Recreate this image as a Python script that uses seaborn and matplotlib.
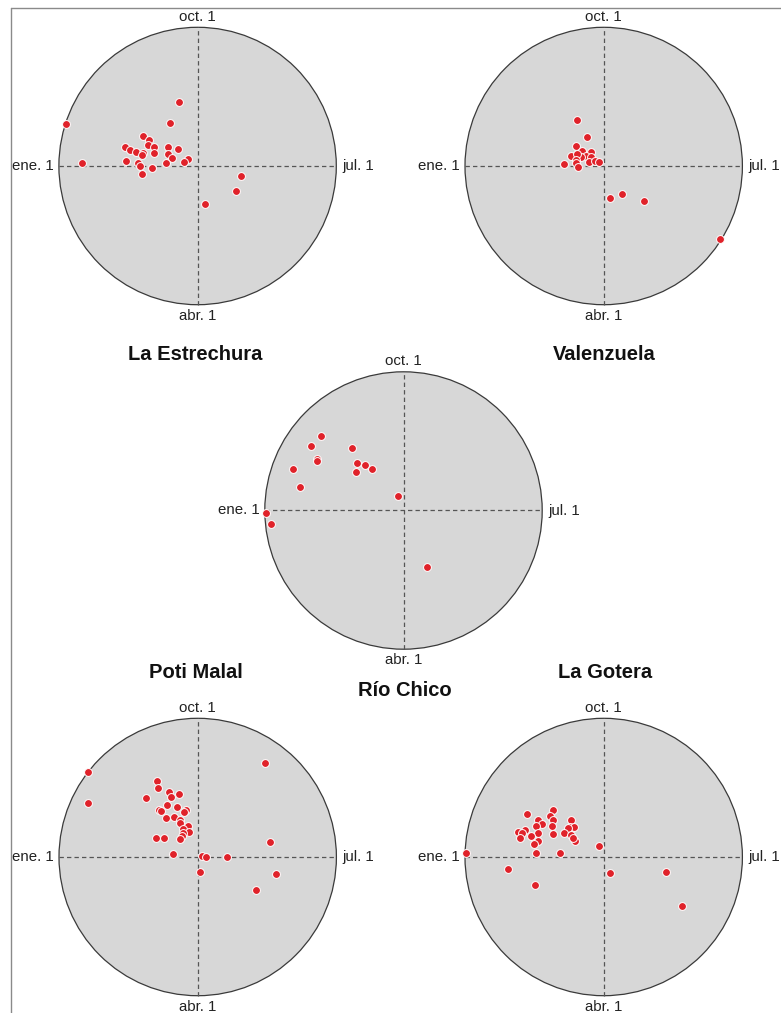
import numpy as np
import pandas as pd
import matplotlib
matplotlib.use("Agg")
import matplotlib.pyplot as plt
from matplotlib.patches import Circle
from matplotlib.lines import Line2D
import seaborn as sns

# ---------------- data (unit-circle coordinates: angle = calendar date, radius = concentration) ----
sites = ["La Estrechura", "Valenzuela", "Río Chico", "Poti Malal", "La Gotera"]
dir_labels = ["oct. 1", "jul. 1", "abr. 1", "ene. 1"]  # top, right, bottom, left

estrechura_x = [-0.132, -0.202, -0.952, -0.397, -0.351, -0.358, -0.313, -0.313, -0.524, -0.486,
                -0.442, -0.397, -0.399, -0.216, -0.144, -0.212, -0.185, -0.072, -0.096, -0.231,
                -0.514, -0.430, -0.418, -0.329, -0.404, -0.832, 0.313, 0.274, 0.053]
estrechura_y = [0.462, 0.310, 0.300, 0.216, 0.190, 0.154, 0.139, 0.096, 0.135, 0.113,
                0.101, 0.096, 0.077, 0.135, 0.125, 0.087, 0.055, 0.050, 0.029, 0.022,
                0.034, 0.022, 0.000, -0.014, -0.060, 0.022, -0.075, -0.183, -0.272]

valenzuela_x = [-0.193, -0.118, -0.200, -0.156, -0.089, -0.238, -0.130, -0.164, -0.094, -0.195,
                -0.202, -0.200, -0.288, -0.108, -0.065, -0.032, -0.185, 0.048, 0.130, 0.288, 0.841]
valenzuela_y = [0.332, 0.207, 0.146, 0.108, 0.103, 0.072, 0.074, 0.063, 0.063, 0.090,
                0.043, 0.019, 0.012, 0.027, 0.036, 0.027, -0.009, -0.229, -0.202, -0.250, -0.524]

riochico_x = [-0.598, -0.665, -0.368, -0.622, -0.625, -0.335, -0.275, -0.224, -0.339, -0.795,
              -0.745, -0.037, -0.992, -0.956, 0.169]
riochico_y = [0.540, 0.465, 0.448, 0.372, 0.360, 0.345, 0.331, 0.302, 0.276, 0.297,
              0.170, 0.106, -0.017, -0.098, -0.408]

potimalal_x = [-0.790, -0.791, -0.293, -0.288, -0.207, -0.137, -0.195, -0.375, -0.219, -0.151,
               -0.082, -0.099, -0.279, -0.264, -0.228, -0.171, -0.127, -0.130, -0.067, -0.103,
               -0.065, -0.108, -0.111, -0.125, -0.303, -0.243, -0.175, 0.034, 0.058, 0.209,
               0.017, 0.483, 0.519, 0.563, 0.418]
potimalal_y = [0.615, 0.392, 0.548, 0.498, 0.471, 0.457, 0.430, 0.423, 0.375, 0.361,
               0.341, 0.327, 0.337, 0.332, 0.279, 0.288, 0.269, 0.243, 0.226, 0.202,
               0.178, 0.173, 0.151, 0.132, 0.135, 0.139, 0.024, 0.007, -0.002, 0.002,
               -0.108, 0.678, 0.106, -0.125, -0.236]

gotera_x = [-0.368, -0.555, -0.385, -0.476, -0.363, -0.236, -0.447, -0.486, -0.373, -0.240,
            -0.212, -0.260, -0.618, -0.565, -0.587, -0.471, -0.524, -0.286, -0.368, -0.236,
            -0.606, -0.474, -0.500, -0.207, -0.221, -0.036, -0.490, -0.313, -0.990, -0.690,
            -0.495, 0.046, 0.452, 0.567]
gotera_y = [0.339, 0.308, 0.298, 0.269, 0.264, 0.267, 0.240, 0.226, 0.226, 0.214,
            0.214, 0.207, 0.183, 0.192, 0.173, 0.175, 0.154, 0.175, 0.163, 0.156,
            0.135, 0.113, 0.091, 0.115, 0.137, 0.077, 0.029, 0.026, 0.026, -0.089,
            -0.200, -0.118, -0.106, -0.353]

site_x = [estrechura_x, valenzuela_x, riochico_x, potimalal_x, gotera_x]
site_y = [estrechura_y, valenzuela_y, riochico_y, potimalal_y, gotera_y]

# ---------------- style ----------------
sns.set_style("white")
plt.rcParams["font.family"] = ["Liberation Sans", "DejaVu Sans"]

W, H = 781, 1013
fig = plt.figure(figsize=(W / 100, H / 100), dpi=100)
fig.patch.set_facecolor("white")

R_PX = 138.7
L = 1.3
centers = [(197.6, 166.0), (603.7, 166.0), (403.5, 510.5), (197.7, 857.0), (603.7, 857.0)]
title_pos = [(195.5, 355.0), (604.5, 355.0), (404.5, 690.0), (195.8, 673.0), (605.0, 673.0)]

POINT = "#e0222a"
DISK = "#d7d7d7"

for i, site in enumerate(sites):
    cx, cy = centers[i]
    half = R_PX * L
    ax = fig.add_axes([(cx - half) / W, (H - cy - half) / H, 2 * half / W, 2 * half / H])
    ax.set_xlim(-L, L)
    ax.set_ylim(-L, L)
    ax.set_aspect("equal")
    ax.axis("off")
    ax.patch.set_visible(False)

    ax.add_patch(Circle((0, 0), 1.0, facecolor=DISK, edgecolor="#3a3a3a", lw=0.9, zorder=1))
    ax.plot([-1, 1], [0, 0], ls=(0, (3.5, 2.5)), color="#555555", lw=0.9, zorder=2)
    ax.plot([0, 0], [-1, 1], ls=(0, (3.5, 2.5)), color="#555555", lw=0.9, zorder=2)

    df = pd.DataFrame({"x": site_x[i], "y": site_y[i]})
    sns.scatterplot(data=df, x="x", y="y", ax=ax, color=POINT, s=32,
                    edgecolor="white", linewidth=0.7, zorder=3, legend=False)
    ax.set_xlabel("")
    ax.set_ylabel("")

    fs = 10.8
    ax.text(0, 1.075, dir_labels[0], ha="center", va="center", fontsize=fs, color="#222222")
    ax.text(1.045, 0, dir_labels[1], ha="left", va="center", fontsize=fs, color="#222222")
    ax.text(0, -1.078, dir_labels[2], ha="center", va="center", fontsize=fs, color="#222222")
    ax.text(-1.04, 0, dir_labels[3], ha="right", va="center", fontsize=fs, color="#222222")

    tx, ty = title_pos[i]
    fig.text(tx / W, 1 - ty / H, site, ha="center", va="center", fontsize=14.5,
             fontweight="bold", color="#111111")

# thin frame lines (top and left)
fig.add_artist(Line2D([10.5 / W, 10.5 / W], [0, 1 - 8 / H], color="#8a8a8a", lw=1.0))
fig.add_artist(Line2D([10.5 / W, 1], [1 - 8 / H, 1 - 8 / H], color="#8a8a8a", lw=1.0))

fig.savefig("out.png", dpi=100, facecolor="white")
